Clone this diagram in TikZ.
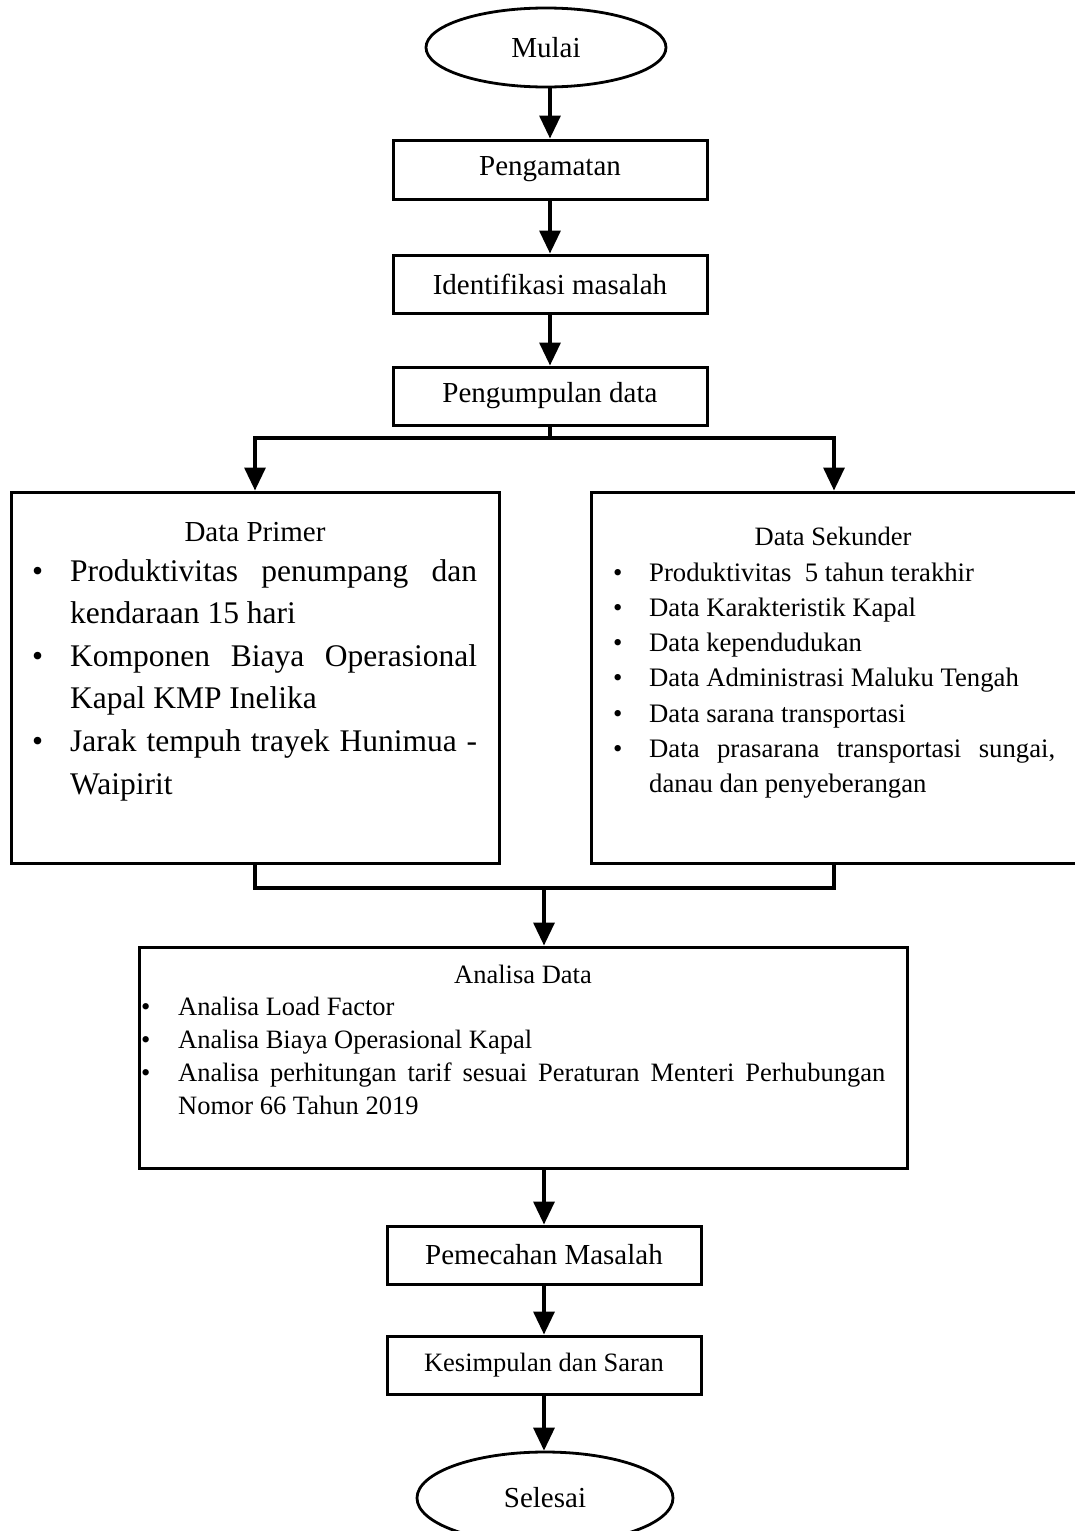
\documentclass[tikz,border=0pt]{standalone}
\usepackage{fontspec}
\setmainfont{Liberation Serif}
\usetikzlibrary{arrows.meta,shapes.geometric}
\hyphenpenalty=10000
\exhyphenpenalty=10000
\newcommand\bitem[1]{\hangindent=#1\hangafter=1\noindent\makebox[#1][l]{\textbullet}\ignorespaces}
\begin{document}
\begin{tikzpicture}[x=1pt,y=-1pt,
  box/.style={draw, line width=3pt, inner sep=0pt, minimum width=314pt, minimum height=58pt, font=\fontsize{29pt}{34pt}\selectfont},
  term/.style={ellipse, draw, line width=2.8pt, inner sep=0pt, font=\fontsize{29pt}{34pt}\selectfont},
  bigbox/.style={draw, line width=3pt, inner sep=0pt},
  arr/.style={line width=3.4pt, -{Triangle[width=21pt,length=23pt]}},
  conn/.style={line width=3.4pt},
  itemtext/.style={inner sep=0pt, anchor=base west, align=justify},
  titletext/.style={inner sep=0pt, anchor=base}]
\useasboundingbox (0,0) rectangle (1074,1531);
% terminals and process boxes
\node[term, minimum width=240pt, minimum height=79pt] (mulai) at (546,47.5) {Mulai};
\node[box, minimum height=59pt] (peng) at (550,169.5) {Pengamatan};
\node[box] (ident) at (550,284) {Identifikasi masalah};
\node[box] (kumpul) at (550,396) {Pengumpulan data};
\node[bigbox, minimum width=488pt, minimum height=371pt] (primer) at (255,677.5) {};
\node[bigbox, minimum width=489pt, minimum height=371pt] (sekunder) at (835.5,677.5) {};
\node[bigbox, minimum width=768pt, minimum height=221pt] (analisa) at (523,1057.5) {};
\node[box] (pecah) at (544,1255) {Pemecahan Masalah};
\node[box, font=\fontsize{26.5pt}{31pt}\selectfont] (simpul) at (544,1365) {Kesimpulan dan Saran};
\node[term, minimum width=256pt, minimum height=92pt] (selesai) at (545,1498) {Selesai};
% contents of the large boxes
\node[titletext, font=\fontsize{29pt}{34pt}\selectfont] (primertitle) at (255,541) {Data Primer};
\node[itemtext, text width=445pt, font=\fontsize{31.5pt}{42.6pt}\selectfont] (primeritems) at (32,581) {%
\bitem{38pt}Produktivitas penumpang dan kendaraan 15 hari\par
\bitem{38pt}Komponen Biaya Operasional Kapal KMP Inelika\par
\bitem{38pt}Jarak tempuh trayek Hunimua - Waipirit\par};
\node[titletext, font=\fontsize{26.5pt}{31pt}\selectfont] (sekundertitle) at (833,545) {Data Sekunder};
\node[itemtext, text width=442pt, font=\fontsize{26.7pt}{35.3pt}\selectfont] (sekunderitems) at (613,581) {%
\bitem{36pt}Produktivitas~ 5 tahun terakhir\par
\bitem{36pt}Data Karakteristik Kapal\par
\bitem{36pt}Data kependudukan\par
\bitem{36pt}Data Administrasi Maluku Tengah\par
\bitem{36pt}Data sarana transportasi\par
\bitem{36pt}Data prasarana transportasi sungai, danau dan penyeberangan\par};
\node[titletext, font=\fontsize{26.5pt}{31pt}\selectfont] (analisatitle) at (523,983) {Analisa Data};
\node[itemtext, text width=744pt, font=\fontsize{26.5pt}{33pt}\selectfont] (analisaitems) at (141,1015) {%
\bitem{37pt}Analisa Load Factor\par
\bitem{37pt}Analisa Biaya Operasional Kapal\par
\bitem{37pt}Analisa perhitungan tarif sesuai Peraturan Menteri Perhubungan Nomor 66 Tahun 2019\par};
% connectors
\coordinate (split) at (550,438);
\coordinate (join) at (544,888);
\draw[arr] (mulai.south -| peng.north) -- (peng.north);
\draw[arr] (peng) -- (ident);
\draw[arr] (ident) -- (kumpul);
\draw[conn] (kumpul.south) -- (split);
\draw[arr] (split) -| (primer.north);
\draw[arr] (split) -| ([xshift=-1.5pt]sekunder.north);
\draw[conn] (primer.south) |- (join);
\draw[conn] ([xshift=-1.5pt]sekunder.south) |- (join);
\draw[arr] (join) -- (join |- analisa.north);
\draw[arr] (analisa.south -| pecah.north) -- (pecah.north);
\draw[arr] (pecah) -- (simpul);
\draw[arr] (simpul.south) -- (simpul.south |- selesai.north);
\end{tikzpicture}
\end{document}
